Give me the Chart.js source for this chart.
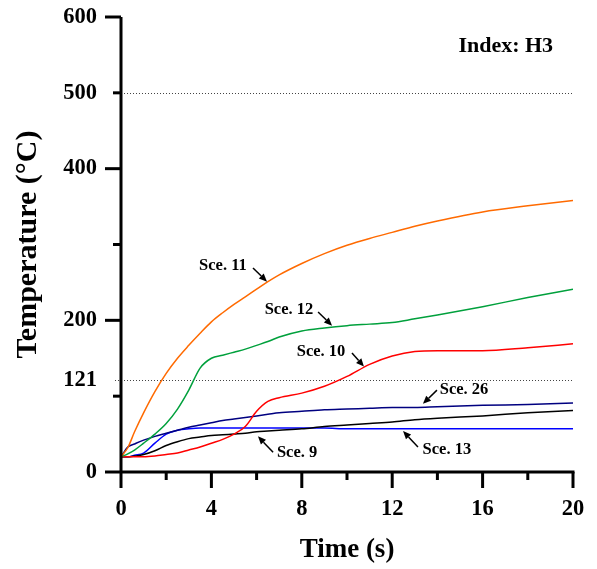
<!DOCTYPE html>
<html>
<head>
<meta charset="utf-8">
<script src="https://cdn.jsdelivr.net/npm/chart.js@4"></script>
<style>
  html, body { margin: 0; padding: 0; background: #fff; }
  #wrap { width: 597px; height: 569px; }
</style>
</head>
<body>
<div id="wrap"><canvas id="tempChart" width="597" height="569"></canvas></div>
<script>
// time points (s)
const times = [0, 0.3, 0.6, 1, 1.5, 2, 2.5, 3, 3.5, 4, 4.5, 5, 5.5, 6, 6.5, 7, 8, 9, 10, 11, 12, 13, 14, 16, 18, 20];

// temperatures (°C)
const sce11 = [20, 32, 53, 78, 106, 130, 150, 167, 183, 198, 210, 221, 231, 241, 251, 260, 275, 288, 299, 308, 316, 324, 331, 343, 351, 358];
const sce12 = [20, 24, 29, 38, 50, 64, 83, 108, 137, 150, 154, 158, 162, 167, 172, 178, 186, 190, 193, 195, 197, 202, 207, 218, 230, 241];
const sce10 = [20, 20, 20, 20, 21, 23, 25, 29, 33, 38, 43, 50, 60, 80, 93, 98, 104, 113, 126, 142, 153, 159, 160, 160, 164, 169];
const sce26 = [20, 33, 37, 42, 47, 51, 55, 59, 62, 65, 68, 70, 72, 74, 76, 78, 80, 82, 83, 84, 85, 85, 86, 88, 89, 91];
const sce13 = [20, 20, 22, 25, 38, 50, 55, 57, 58, 58, 58, 58, 58, 58, 58, 58, 58, 58, 57, 57, 57, 57, 57, 57, 57, 57];
const sce9  = [20, 20, 21, 23, 28, 35, 40, 44, 46, 48, 49, 50, 51, 53, 54, 55, 57, 60, 62, 64, 66, 69, 71, 74, 78, 81];

// axis ticks
const xTicks = [0, 2, 4, 6, 8, 10, 12, 14, 16, 18, 20];
const xLabelled = [0, 4, 8, 12, 16, 20];
const yTicks = [0, 100, 121, 200, 300, 400, 500, 600];
const yLabelled = [0, 121, 200, 400, 500, 600];
const yMajor = [0, 200, 400, 600];
const yMinor = [100, 300, 500];
const refLines = [121, 500];

// callouts: label, text pos, arrow start, arrow end (data coords)
const callouts = [
  { text: 'Sce. 11', at: [4.51, 272], from: [5.84, 269], to: [6.46, 251] },
  { text: 'Sce. 12', at: [7.43, 214], from: [8.72, 211], to: [9.34, 193] },
  { text: 'Sce. 10', at: [8.85, 158], from: [10.22, 157], to: [10.75, 139] },
  { text: 'Sce. 26', at: [15.18, 109], from: [13.98, 108], to: [13.36, 90] },
  { text: 'Sce. 13', at: [14.42, 30], from: [13.14, 33], to: [12.48, 54] },
  { text: 'Sce. 9',  at: [7.79, 25], from: [6.73, 26], to: [6.06, 47] }
];

const serif = "'Liberation Serif', 'Times New Roman', serif";

function series(label, vals, color) {
  return {
    label: label,
    data: times.map((t, i) => ({ x: t, y: vals[i] })),
    borderColor: color,
    borderWidth: 1.5,
    pointRadius: 0,
    fill: false,
    cubicInterpolationMode: 'monotone'
  };
}

const decor = {
  id: 'decor',
  beforeDatasetsDraw(chart) {
    const ctx = chart.ctx, xs = chart.scales.x, ys = chart.scales.y;
    ctx.save();
    ctx.strokeStyle = '#444';
    ctx.lineWidth = 1;
    ctx.setLineDash([1, 2]);
    refLines.forEach(v => {
      const py = Math.round(ys.getPixelForValue(v)) + 0.5;
      ctx.beginPath();
      ctx.moveTo(v === 121 ? xs.left - 6 : xs.left, py);
      ctx.lineTo(xs.right, py);
      ctx.stroke();
    });
    ctx.restore();
  },
  afterDraw(chart) {
    const ctx = chart.ctx, xs = chart.scales.x, ys = chart.scales.y;
    ctx.save();
    ctx.strokeStyle = '#000';
    ctx.lineCap = 'butt';
    // y ticks
    ctx.lineWidth = 3;
    yMajor.forEach(v => {
      const py = ys.getPixelForValue(v);
      ctx.beginPath(); ctx.moveTo(xs.left - 16, py); ctx.lineTo(xs.left, py); ctx.stroke();
    });
    yMinor.forEach(v => {
      const py = ys.getPixelForValue(v);
      ctx.beginPath(); ctx.moveTo(xs.left - 8, py); ctx.lineTo(xs.left, py); ctx.stroke();
    });
    // x ticks
    xTicks.forEach(v => {
      const px = xs.getPixelForValue(v);
      const len = xLabelled.includes(v) ? 16 : 8;
      ctx.beginPath(); ctx.moveTo(px, ys.bottom); ctx.lineTo(px, ys.bottom + len); ctx.stroke();
    });
    // axis lines
    ctx.beginPath(); ctx.moveTo(xs.left, ys.top); ctx.lineTo(xs.left, ys.bottom); ctx.stroke();
    ctx.beginPath(); ctx.moveTo(xs.left, ys.bottom); ctx.lineTo(xs.right + 1.5, ys.bottom); ctx.stroke();

    // callouts
    ctx.fillStyle = '#000';
    ctx.font = 'bold 16.5px ' + serif;
    ctx.textAlign = 'center';
    ctx.textBaseline = 'middle';
    ctx.lineWidth = 1.5;
    callouts.forEach(c => {
      ctx.fillText(c.text, xs.getPixelForValue(c.at[0]), ys.getPixelForValue(c.at[1]));
      const x1 = xs.getPixelForValue(c.from[0]), y1 = ys.getPixelForValue(c.from[1]);
      const x2 = xs.getPixelForValue(c.to[0]), y2 = ys.getPixelForValue(c.to[1]);
      const ang = Math.atan2(y2 - y1, x2 - x1);
      const hl = 8, hw = 3.5;
      const bx = x2 - hl * Math.cos(ang), by = y2 - hl * Math.sin(ang);
      ctx.beginPath(); ctx.moveTo(x1, y1); ctx.lineTo(bx, by); ctx.stroke();
      ctx.beginPath();
      ctx.moveTo(x2, y2);
      ctx.lineTo(bx + hw * Math.sin(ang), by - hw * Math.cos(ang));
      ctx.lineTo(bx - hw * Math.sin(ang), by + hw * Math.cos(ang));
      ctx.closePath();
      ctx.fill();
    });

    ctx.font = 'bold 22px ' + serif;
    ctx.textAlign = 'right';
    ctx.fillText('Index: H3', xs.getPixelForValue(19.12), ys.getPixelForValue(561));
    ctx.restore();
  }
};

new Chart(document.getElementById('tempChart'), {
  type: 'line',
  data: {
    datasets: [
      series('Sce. 11', sce11, '#ff6a00'),
      series('Sce. 12', sce12, '#00a03c'),
      series('Sce. 10', sce10, '#ff0000'),
      series('Sce. 26', sce26, '#000080'),
      series('Sce. 9', sce9, '#000000'),
      series('Sce. 13', sce13, '#0000ff')
    ]
  },
  options: {
    responsive: false,
    animation: false,
    layout: { padding: { left: 10, right: 24, top: 17, bottom: 0 } },
    plugins: { legend: { display: false }, tooltip: { enabled: false } },
    scales: {
      x: {
        type: 'linear',
        min: 0, max: 20,
        afterBuildTicks: s => { s.ticks = xTicks.map(v => ({ value: v })); },
        afterFit: s => { s.height = 97; s.paddingLeft = 0; s.paddingRight = 0; },
        grid: { drawOnChartArea: false, tickLength: 16, tickColor: 'transparent' },
        border: { display: false },
        ticks: {
          color: '#000',
          font: { family: serif, size: 22.5, weight: 'bold' },
          padding: 8,
          maxRotation: 0,
          autoSkip: false,
          callback: v => xLabelled.includes(v) ? String(v) : ''
        },
        title: {
          display: true, text: 'Time (s)', color: '#000',
          font: { family: serif, size: 27, weight: 'bold' },
          padding: { top: 0, bottom: 3 }
        }
      },
      y: {
        min: 0, max: 600,
        afterBuildTicks: s => { s.ticks = yTicks.map(v => ({ value: v })); },
        afterFit: s => { s.width = 111; s.paddingTop = 0; s.paddingBottom = 0; },
        grid: { drawOnChartArea: false, tickLength: 16, tickColor: 'transparent' },
        border: { display: false },
        ticks: {
          color: '#000',
          font: { family: serif, size: 22.5, weight: 'bold' },
          padding: 8,
          autoSkip: false,
          callback: v => yLabelled.includes(v) ? String(v) : ''
        },
        title: {
          display: true, text: 'Temperature (°C)', color: '#000',
          font: { family: serif, size: 30, weight: 'bold' },
          padding: { top: 0, bottom: 0 }
        }
      }
    }
  },
  plugins: [decor]
});
</script>
</body>
</html>
